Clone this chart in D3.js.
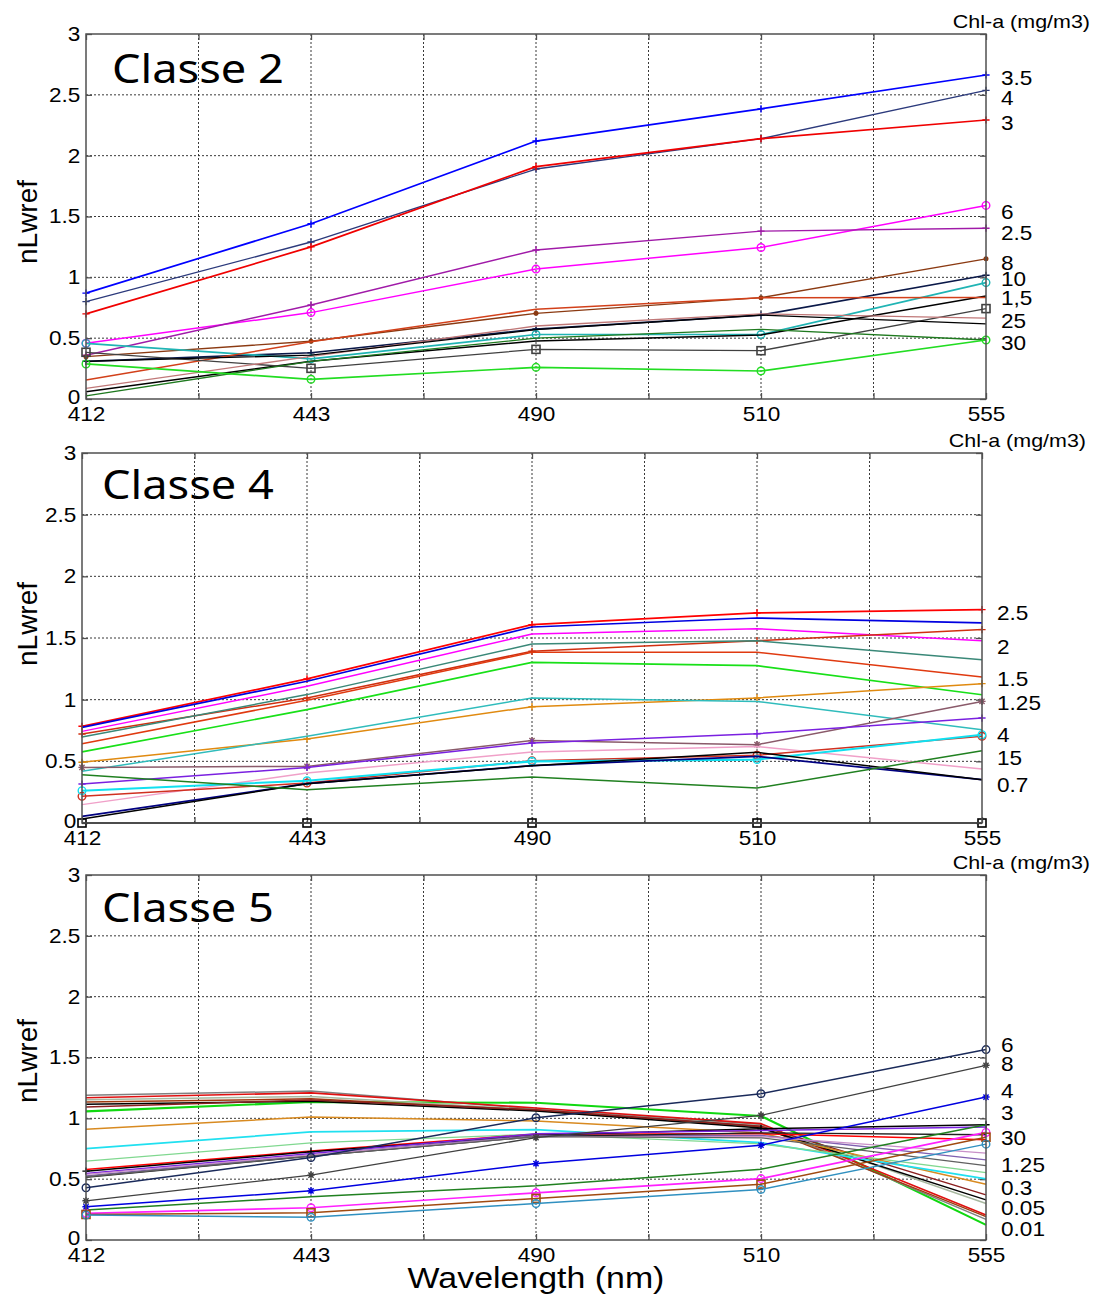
<!DOCTYPE html>
<html><head><meta charset="utf-8">
<script src="https://cdn.jsdelivr.net/npm/d3@7"></script>
<style>body{margin:0;background:#fff}svg{display:block}</style>
</head><body>
<svg id="chart" width="1097" height="1296"></svg>
<script>
// ---------- data ----------
const wavelengths = ["412", "443", "490", "510", "555"];
const yTickValues = [0, 0.5, 1, 1.5, 2, 2.5, 3];
const yTickLabels = ["0", "0.5", "1", "1.5", "2", "2.5", "3"];
const unitLabel = "Chl-a (mg/m3)";
const yAxisTitle = "nLwref";
const xAxisTitle = "Wavelength (nm)";

// Classe 2
const class2Values = [
  [0.87, 1.44, 2.12, 2.385, 2.663],
  [0.80, 1.29, 1.89, 2.14, 2.537],
  [0.70, 1.25, 1.91, 2.14, 2.293],
  [0.458, 0.71, 1.068, 1.245, 1.591],
  [0.36, 0.773, 1.225, 1.38, 1.404],
  [0.348, 0.475, 0.704, 0.833, 1.152],
  [0.31, 0.38, 0.575, 0.69, 1.017],
  [0.457, 0.33, 0.53, 0.53, 0.957],
  [0.06, 0.31, 0.477, 0.526, 0.847],
  [0.156, 0.47, 0.737, 0.833, 0.834],
  [0.384, 0.252, 0.408, 0.397, 0.743],
  [0.088, 0.35, 0.60, 0.70, 0.664],
  [0.31, 0.36, 0.57, 0.69, 0.617],
  [0.025, 0.31, 0.50, 0.573, 0.485],
  [0.288, 0.162, 0.26, 0.23, 0.485]
];
const class2Labels = ["3.5", "4", "3", "6", "2.5", "8", "10", "1,5", "25", "30"];
const class2LabelValues = [2.638, 2.473, 2.268, 1.541, 1.363, 1.116, 0.984, 0.828, 0.644, 0.458];

// Classe 4
const class4Values = [
  [0.784, 1.168, 1.608, 1.703, 1.73],
  [0.776, 1.149, 1.589, 1.662, 1.622],
  [0.743, 1.108, 1.532, 1.576, 1.478],
  [0.722, 1.014, 1.392, 1.478, 1.568],
  [0.697, 1.041, 1.451, 1.478, 1.324],
  [0.643, 0.995, 1.384, 1.384, 1.184],
  [0.576, 0.919, 1.303, 1.276, 1.04],
  [0.492, 0.681, 0.943, 1.014, 1.13],
  [0.419, 0.703, 1.014, 0.986, 0.757],
  [0.451, 0.459, 0.668, 0.635, 0.986],
  [0.316, 0.45, 0.649, 0.724, 0.851],
  [0.149, 0.405, 0.576, 0.62, 0.438],
  [0.216, 0.324, 0.505, 0.549, 0.703],
  [0.262, 0.343, 0.50, 0.514, 0.716],
  [0.054, 0.319, 0.465, 0.54, 0.351],
  [0.032, 0.319, 0.465, 0.573, 0.351],
  [0.392, 0.27, 0.373, 0.284, 0.586],
  [0, 0, 0, 0, 0]
];
const class4Labels = ["2.5", "2", "1.5", "1.25", "4", "15", "0.7"];
const class4LabelValues = [1.703, 1.427, 1.168, 0.978, 0.716, 0.527, 0.311];

// Classe 5
const class5Values = [
  [1.057, 1.134, 1.128, 1.019, 0.124],
  [1.189, 1.224, 1.075, 0.95, 0.17],
  [1.169, 1.21, 1.085, 0.956, 0.206],
  [1.153, 1.18, 1.07, 0.94, 0.30],
  [1.134, 1.16, 1.066, 0.93, 0.192],
  [1.115, 1.14, 1.06, 0.92, 0.33],
  [1.093, 1.15, 1.07, 0.935, 0.371],
  [0.91, 1.011, 0.978, 0.88, 0.458],
  [0.751, 0.888, 0.907, 0.80, 0.502],
  [0.648, 0.798, 0.87, 0.79, 0.554],
  [0.579, 0.732, 0.87, 0.874, 0.823],
  [0.566, 0.725, 0.86, 0.915, 0.947],
  [0.546, 0.71, 0.874, 0.90, 0.928],
  [0.527, 0.70, 0.86, 0.86, 0.659],
  [0.514, 0.69, 0.85, 0.88, 0.865],
  [0.54, 0.70, 0.85, 0.85, 0.714],
  [0.52, 0.69, 0.85, 0.84, 0.612],
  [0.429, 0.678, 1.005, 1.202, 1.565],
  [0.322, 0.533, 0.842, 1.025, 1.436],
  [0.273, 0.404, 0.628, 0.779, 1.175],
  [0.246, 0.355, 0.445, 0.582, 0.947],
  [0.219, 0.265, 0.388, 0.505, 0.884],
  [0.21, 0.224, 0.342, 0.459, 0.845],
  [0.205, 0.186, 0.30, 0.415, 0.788]
];
const class5Labels = ["6", "8", "4", "3", "30", "1.25", "0.3", "0.05", "0.01"];
const class5LabelValues = [1.606, 1.447, 1.23, 1.043, 0.837, 0.618, 0.425, 0.261, 0.096];

// ---------- styles (colour, marker, width) ----------
const class2Styles = [
  ["#0000ff", "+", 1.7], ["#2c3a7c", "+", 1.4], ["#f00000", "+", 1.7], ["#ff00ff", "o", 1.5],
  ["#a01aa8", "+", 1.4], ["#8b3a12", ".", 1.4], ["#0a1848", "+", 1.7], ["#20b4b4", "o", 1.7],
  ["#000000", "", 1.5], ["#d2401a", "", 1.5], ["#404040", "s", 1.3], ["#c07878", "", 1.3],
  ["#000000", "", 1.3], ["#1f7a1f", "", 1.3], ["#22dd22", "o", 1.7]
];
const class4Styles = [
  ["#ff0000", "+", 1.7], ["#0000e0", "", 1.7], ["#ff00ff", "", 1.5], ["#d03010", "+", 1.5],
  ["#3a8878", "", 1.5], ["#e03a10", "", 1.5], ["#18e018", "", 1.7], ["#e08a10", "+", 1.5],
  ["#30bcbc", "", 1.5], ["#8a5a6a", "*", 1.5], ["#7a20e0", "+", 1.5], ["#f0a0c8", "", 1.5],
  ["#d03020", "o", 1.5], ["#10e0f0", "o", 2.1], ["#000080", "", 1.7], ["#000000", "", 1.5],
  ["#208020", "", 1.5], ["#000000", "s", 1.3]
];
const class5Styles = [
  ["#10d810", "", 2.1], ["#808080", "", 1.5], ["#e01010", "", 1.7], ["#a8b8a0", "", 1.5],
  ["#a03a10", "", 1.5], ["#000000", "", 1.5], ["#8b2020", "", 1.5], ["#d88a20", "", 1.5],
  ["#20e0f0", "", 1.7], ["#80d890", "", 1.3], ["#ff0000", "", 1.5], ["#000000", "+", 1.5],
  ["#7a20e0", "", 1.5], ["#8060b0", "", 1.3], ["#202020", "", 1.3], ["#c890c8", "", 1.3],
  ["#606060", "", 1.3], ["#1a2a5a", "o", 1.5], ["#404040", "*", 1.3], ["#0000e0", "*", 1.5],
  ["#208020", "", 1.5], ["#ff20ff", "o", 1.7], ["#a04a10", "s", 1.5], ["#3090c0", "o", 1.5]
];

// ---------- layout ----------
const panels = [
  {title: "Classe 2", values: class2Values, styles: class2Styles, labels: class2Labels, labelValues: class2LabelValues,
   left: 86, top: 34, width: 900, height: 365, titleX: 112, titleY: 83, yTitleY: 222},
  {title: "Classe 4", values: class4Values, styles: class4Styles, labels: class4Labels, labelValues: class4LabelValues,
   left: 82, top: 453, width: 900, height: 370, titleX: 102, titleY: 499, yTitleY: 624},
  {title: "Classe 5", values: class5Values, styles: class5Styles, labels: class5Labels, labelValues: class5LabelValues,
   left: 86, top: 875, width: 900, height: 365, titleX: 102, titleY: 922, yTitleY: 1061}
];
const SX = 1.13; // horizontal stretch of the original artwork's text
const sansFont = "'Liberation Sans', Arial, sans-serif";

const svg = d3.select("#chart");
svg.append("rect").attr("width", 1097).attr("height", 1296).attr("fill", "#fff");

function markerPath(type, s) {
  if (type === "+") return `M${-s},0H${s}M0,${-s}V${s}`;
  if (type === "*") { const d = s * 0.72; return `M${-s},0H${s}M0,${-s}V${s}M${-d},${-d}L${d},${d}M${-d},${d}L${d},${-d}`; }
  return null;
}

panels.forEach(p => {
  const g = svg.append("g").attr("transform", `translate(${p.left},${p.top})`);
  const x = d3.scaleLinear().domain([0, wavelengths.length - 1]).range([0, p.width]);
  const y = d3.scaleLinear().domain([0, 3]).range([p.height, 0]);
  const xGrid = d3.range(0, wavelengths.length - 0.9, 0.5);

  // grid
  g.append("g").selectAll("line").data(xGrid.filter(v => v > 0 && v < 4)).join("line")
    .attr("x1", d => x(d)).attr("x2", d => x(d)).attr("y1", 0).attr("y2", p.height)
    .attr("stroke", "#222").attr("stroke-width", 0.9).attr("stroke-dasharray", "2,2");
  g.append("g").selectAll("line").data(yTickValues.filter(v => v > 0 && v < 3)).join("line")
    .attr("x1", 0).attr("x2", p.width).attr("y1", d => y(d)).attr("y2", d => y(d))
    .attr("stroke", "#222").attr("stroke-width", 0.9).attr("stroke-dasharray", "2,2");

  // inner ticks on all four sides
  const tickStyle = s => { s.select(".domain").remove(); s.selectAll("line").attr("stroke", "#505050").attr("stroke-width", 1.3); };
  g.append("g").attr("transform", `translate(0,${p.height})`)
    .call(d3.axisBottom(x).tickValues(xGrid).tickSize(-6).tickFormat("")).call(tickStyle);
  g.append("g").call(d3.axisTop(x).tickValues(xGrid).tickSize(-6).tickFormat("")).call(tickStyle);
  g.append("g").call(d3.axisLeft(y).tickValues(yTickValues).tickSize(-6).tickFormat("")).call(tickStyle);
  g.append("g").attr("transform", `translate(${p.width},0)`)
    .call(d3.axisRight(y).tickValues(yTickValues).tickSize(-6).tickFormat("")).call(tickStyle);

  // series
  const line = d3.line().x((d, i) => x(i)).y(d => y(d));
  const plot = g.append("g");
  p.values.forEach((vals, si) => {
    const [color, marker, w] = p.styles[si];
    plot.append("path").datum(vals).attr("d", line).attr("fill", "none")
      .attr("stroke", color).attr("stroke-width", w).attr("stroke-linejoin", "round");
    if (!marker) return;
    const mg = plot.append("g");
    vals.forEach((v, i) => {
      const cx = x(i), cy = y(v);
      if (marker === "o") {
        mg.append("circle").attr("cx", cx).attr("cy", cy).attr("r", 3.8)
          .attr("fill", "none").attr("stroke", color).attr("stroke-width", 1.4);
      } else if (marker === "s") {
        mg.append("rect").attr("x", cx - 4).attr("y", cy - 4).attr("width", 8).attr("height", 8)
          .attr("fill", "none").attr("stroke", color).attr("stroke-width", 1.6);
      } else if (marker === ".") {
        mg.append("circle").attr("cx", cx).attr("cy", cy).attr("r", 2.5).attr("fill", color);
      } else {
        mg.append("path").attr("d", markerPath(marker, 3.6)).attr("transform", `translate(${cx},${cy})`)
          .attr("fill", "none").attr("stroke", color).attr("stroke-width", 1.4);
      }
    });
  });

  // frame
  g.append("rect").attr("width", p.width).attr("height", p.height)
    .attr("fill", "none").attr("stroke", "#505050").attr("stroke-width", 1.5);

  // tick labels
  const xl = g.append("g").attr("transform", `translate(0,${p.height})`)
    .call(d3.axisBottom(x).tickValues(d3.range(wavelengths.length)).tickSize(0).tickPadding(8)
      .tickFormat(i => wavelengths[i]));
  xl.select(".domain").remove();
  xl.selectAll("text").attr("font-family", sansFont).attr("font-size", 20).attr("fill", "#000")
    .attr("transform", `scale(${SX},1)`);
  const yl = g.append("g")
    .call(d3.axisLeft(y).tickValues(yTickValues).tickSize(0).tickPadding(5)
      .tickFormat((d, i) => yTickLabels[i]));
  yl.select(".domain").remove();
  yl.selectAll("text").attr("font-family", sansFont).attr("font-size", 20).attr("fill", "#000")
    .attr("dy", d => d === 0 ? "0.2em" : "0.32em")
    .attr("transform", `scale(${SX},1)`);

  // concentration labels at right
  g.append("g").selectAll("text").data(p.labels).join("text")
    .attr("transform", (d, i) => `translate(${p.width + 15},${y(p.labelValues[i])}) scale(${SX},1)`)
    .attr("dy", "0.36em").attr("font-family", sansFont).attr("font-size", 20).attr("fill", "#000")
    .text(d => d);

  // unit label
  svg.append("text").attr("transform", `translate(${p.left + p.width + 104},${p.top - 6}) scale(${SX},1)`)
    .attr("text-anchor", "end").attr("font-family", sansFont).attr("font-size", 19).attr("fill", "#000")
    .text(unitLabel);

  // class title
  svg.append("text").attr("transform", `translate(${p.titleX},${p.titleY}) scale(${SX},1)`)
    .attr("font-family", "'Noto Sans', 'Open Sans', sans-serif").attr("font-size", 40).attr("fill", "#000")
    .text(p.title);

  // y axis title
  svg.append("text").attr("transform", `translate(37,${p.yTitleY}) rotate(-90)`)
    .attr("text-anchor", "middle").attr("font-family", sansFont).attr("font-size", 28).attr("fill", "#000")
    .text(yAxisTitle);
});

// x axis title
svg.append("text").attr("transform", `translate(536,1288) scale(${SX},1)`)
  .attr("text-anchor", "middle").attr("font-family", sansFont).attr("font-size", 30).attr("fill", "#000")
  .text(xAxisTitle);
</script>
</body></html>
